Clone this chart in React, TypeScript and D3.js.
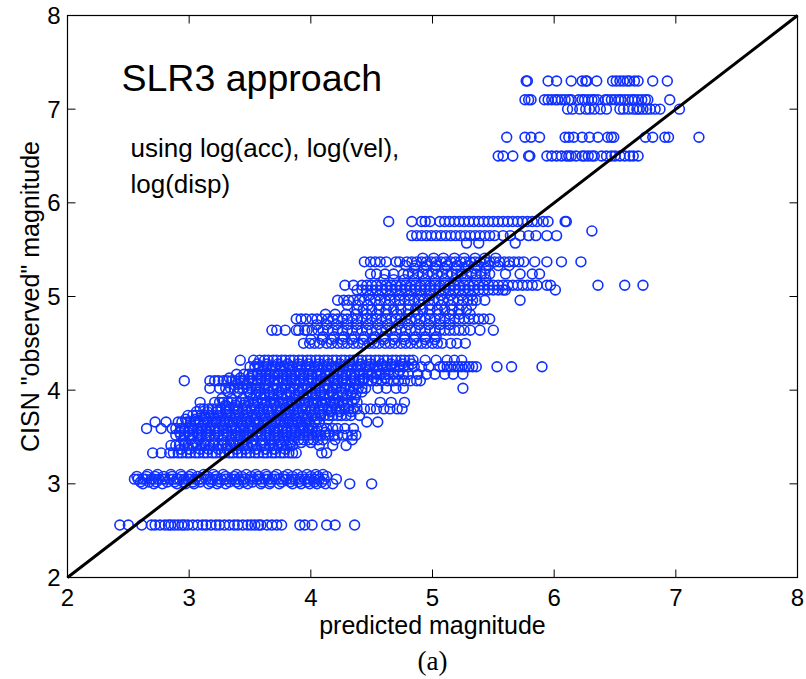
import React from "react";
import * as d3 from "d3";

// Observed (catalogue) magnitude levels and the predicted magnitudes recorded at each level
const observedLevels: number[] = [
  2.56, 3.0, 3.05, 3.1, 3.33, 3.41, 3.47, 3.52, 3.59, 3.66, 3.73, 3.8, 3.87, 3.95, 4.02, 4.1,
  4.17, 4.25, 4.32, 4.5, 4.64, 4.76, 4.86, 4.96, 5.07, 5.12, 5.24, 5.37, 5.57, 5.65, 5.7, 5.8,
  6.5, 6.7, 7.0, 7.1, 7.3,
];

const predicted: number[][] = [
  // 2.56
  [2.43, 2.5, 2.61, 2.69, 2.72, 2.76, 2.8, 2.83, 2.85, 2.88, 2.91, 2.94, 2.96, 2.99, 3.03, 3.07, 3.11, 3.14, 3.18, 3.22, 3.25, 3.29, 3.33, 3.37, 3.4, 3.44, 3.48, 3.51, 3.54, 3.57, 3.59, 3.64, 3.68, 3.72, 3.76, 3.91, 3.95, 4.01, 4.13, 4.2, 4.36],
  // 3.0
  [2.62, 2.71, 2.78, 2.9, 2.97, 3.04, 3.16, 3.23, 3.3, 3.41, 3.48, 3.59, 3.66, 3.74, 3.85, 3.92, 3.99, 4.05, 4.12, 4.18, 4.32, 4.5],
  // 3.05
  [2.55, 2.58, 2.62, 2.64, 2.69, 2.71, 2.75, 2.78, 2.8, 2.84, 2.87, 2.9, 2.92, 2.96, 2.99, 3.01, 3.05, 3.08, 3.1, 3.14, 3.17, 3.19, 3.23, 3.26, 3.29, 3.31, 3.35, 3.38, 3.41, 3.44, 3.46, 3.5, 3.53, 3.56, 3.58, 3.62, 3.65, 3.68, 3.71, 3.74, 3.77, 3.8, 3.84, 3.87, 3.91, 3.95, 3.99, 4.03, 4.07, 4.11, 4.21],
  // 3.1
  [2.66, 2.74, 2.85, 2.93, 3.02, 3.12, 3.2, 3.28, 3.39, 3.47, 3.55, 3.63, 3.72, 3.81, 3.89, 3.97, 4.04, 4.1],
  // 3.33
  [2.7, 2.77, 2.84, 2.87, 2.91, 2.94, 2.98, 3.01, 3.05, 3.08, 3.12, 3.15, 3.19, 3.22, 3.26, 3.29, 3.33, 3.36, 3.4, 3.43, 3.47, 3.5, 3.54, 3.57, 3.61, 3.64, 3.68, 3.71, 3.75, 3.78, 3.82, 3.85, 3.88, 4.09, 4.13],
  // 3.41
  [2.85, 2.89, 2.92, 2.96, 2.99, 3.03, 3.06, 3.1, 3.13, 3.17, 3.2, 3.24, 3.27, 3.31, 3.34, 3.38, 3.41, 3.45, 3.48, 3.52, 3.55, 3.59, 3.62, 3.66, 3.69, 3.73, 3.76, 3.8, 3.83, 3.85, 4.07, 4.18, 4.29],
  // 3.47
  [2.95, 3.01, 3.08, 3.14, 3.21, 3.27, 3.34, 3.4, 3.47, 3.53, 3.6, 3.66, 3.7, 3.74, 3.78, 3.82, 3.86, 3.9, 3.94, 3.98, 4.02, 4.06, 4.1, 4.2, 4.34],
  // 3.52
  [2.89, 2.93, 2.96, 3.0, 3.03, 3.07, 3.1, 3.14, 3.17, 3.21, 3.24, 3.28, 3.31, 3.35, 3.38, 3.42, 3.45, 3.49, 3.52, 3.56, 3.59, 3.63, 3.66, 3.7, 3.73, 3.77, 3.8, 3.84, 3.87, 3.91, 3.94, 3.98, 4.01, 4.05, 4.08, 4.12, 4.15, 4.19, 4.22, 4.26, 4.3, 4.34, 4.37],
  // 3.59
  [2.65, 2.77, 2.86, 2.89, 2.93, 2.96, 3.0, 3.03, 3.07, 3.1, 3.14, 3.17, 3.21, 3.24, 3.28, 3.31, 3.35, 3.38, 3.42, 3.45, 3.49, 3.52, 3.56, 3.59, 3.63, 3.66, 3.7, 3.73, 3.77, 3.8, 3.84, 3.87, 3.91, 3.94, 3.98, 4.01, 4.05, 4.09, 4.13, 4.18, 4.22, 4.28, 4.35],
  // 3.66
  [2.72, 2.81, 2.91, 2.94, 2.98, 3.01, 3.05, 3.08, 3.12, 3.15, 3.19, 3.22, 3.26, 3.29, 3.33, 3.36, 3.4, 3.43, 3.47, 3.5, 3.54, 3.57, 3.61, 3.64, 3.68, 3.71, 3.75, 3.78, 3.82, 3.85, 3.89, 3.92, 3.96, 3.99, 4.03, 4.07, 4.46, 4.55],
  // 3.73
  [2.99, 3.03, 3.06, 3.1, 3.13, 3.17, 3.2, 3.24, 3.27, 3.31, 3.34, 3.38, 3.41, 3.45, 3.48, 3.52, 3.55, 3.59, 3.62, 3.66, 3.69, 3.73, 3.76, 3.8, 3.83, 3.87, 3.9, 3.94, 3.97, 4.01, 4.04, 4.08, 4.11, 4.15, 4.18, 4.22, 4.25, 4.29, 4.33, 4.4],
  // 3.8
  [3.09, 3.12, 3.16, 3.19, 3.23, 3.26, 3.3, 3.33, 3.37, 3.4, 3.44, 3.47, 3.51, 3.54, 3.58, 3.61, 3.65, 3.68, 3.72, 3.75, 3.79, 3.82, 3.86, 3.89, 3.93, 3.96, 4.0, 4.03, 4.07, 4.1, 4.14, 4.17, 4.21, 4.24, 4.28, 4.31, 4.35, 4.38, 4.44, 4.49, 4.54, 4.6, 4.65, 4.71, 4.75],
  // 3.87
  [3.09, 3.21, 3.25, 3.28, 3.32, 3.35, 3.39, 3.42, 3.46, 3.49, 3.53, 3.56, 3.6, 3.63, 3.67, 3.7, 3.74, 3.77, 3.81, 3.84, 3.88, 3.91, 3.95, 3.98, 4.02, 4.05, 4.09, 4.12, 4.16, 4.19, 4.23, 4.26, 4.3, 4.34, 4.38, 4.57, 4.66, 4.77],
  // 3.95
  [3.5, 3.55, 3.59, 3.62, 3.66, 3.69, 3.73, 3.76, 3.8, 3.83, 3.87, 3.9, 3.94, 3.97, 4.01, 4.04, 4.08, 4.11, 4.15, 4.18, 4.22, 4.26, 4.3, 4.33, 4.37],
  // 4.02
  [3.17, 3.25, 3.3, 3.34, 3.37, 3.41, 3.44, 3.48, 3.51, 3.55, 3.58, 3.62, 3.65, 3.69, 3.72, 3.76, 3.79, 3.83, 3.86, 3.9, 3.93, 3.97, 4.0, 4.04, 4.07, 4.11, 4.14, 4.18, 4.21, 4.25, 4.28, 4.32, 4.35, 4.39, 4.42, 4.45, 4.55, 4.62, 4.7, 4.76, 5.25],
  // 4.1
  [2.96, 3.17, 3.21, 3.24, 3.28, 3.31, 3.35, 3.38, 3.42, 3.45, 3.49, 3.52, 3.56, 3.59, 3.63, 3.66, 3.7, 3.73, 3.77, 3.8, 3.84, 3.87, 3.91, 3.94, 3.98, 4.01, 4.05, 4.08, 4.12, 4.15, 4.19, 4.22, 4.26, 4.29, 4.33, 4.36, 4.4, 4.43, 4.47, 4.5, 4.54, 4.58, 4.63, 4.68, 4.72, 4.77, 4.82, 4.87, 4.9],
  // 4.17
  [3.39, 3.45, 3.49, 3.52, 3.56, 3.59, 3.63, 3.66, 3.7, 3.73, 3.77, 3.8, 3.84, 3.87, 3.91, 3.94, 3.98, 4.01, 4.05, 4.08, 4.12, 4.15, 4.19, 4.22, 4.26, 4.29, 4.33, 4.36, 4.4, 4.43, 4.47, 4.5, 4.54, 4.57, 4.61, 4.64, 4.68, 4.72, 4.76, 4.8, 4.88, 4.95, 5.02, 5.1, 5.17, 5.25],
  // 4.25
  [3.5, 3.54, 3.57, 3.61, 3.64, 3.68, 3.71, 3.75, 3.78, 3.82, 3.85, 3.89, 3.92, 3.96, 3.99, 4.03, 4.06, 4.1, 4.13, 4.17, 4.2, 4.24, 4.27, 4.31, 4.34, 4.38, 4.41, 4.45, 4.48, 4.52, 4.55, 4.59, 4.62, 4.66, 4.69, 4.73, 4.76, 4.8, 4.85, 4.91, 4.97, 5.06, 5.09, 5.12, 5.15, 5.18, 5.21, 5.24, 5.27, 5.3, 5.33, 5.36, 5.53, 5.65, 5.9],
  // 4.32
  [3.42, 3.53, 3.58, 3.62, 3.65, 3.69, 3.72, 3.76, 3.79, 3.83, 3.86, 3.9, 3.93, 3.97, 4.0, 4.04, 4.07, 4.11, 4.14, 4.18, 4.21, 4.25, 4.28, 4.32, 4.35, 4.39, 4.42, 4.46, 4.49, 4.53, 4.56, 4.6, 4.63, 4.67, 4.7, 4.74, 4.77, 4.81, 4.84, 4.94, 5.03, 5.12, 5.18, 5.24],
  // 4.5
  [3.94, 3.99, 4.03, 4.07, 4.13, 4.17, 4.22, 4.26, 4.3, 4.35, 4.39, 4.43, 4.48, 4.52, 4.56, 4.61, 4.65, 4.69, 4.74, 4.78, 4.82, 4.87, 4.91, 4.95, 5.0, 5.04, 5.08, 5.15, 5.2, 5.27],
  // 4.64
  [3.68, 3.72, 3.79, 3.88, 3.9, 3.95, 3.97, 4.01, 4.06, 4.1, 4.14, 4.18, 4.22, 4.26, 4.3, 4.34, 4.38, 4.42, 4.46, 4.5, 4.54, 4.58, 4.62, 4.66, 4.7, 4.74, 4.78, 4.82, 4.86, 4.9, 4.94, 4.98, 5.02, 5.06, 5.1, 5.14, 5.18, 5.22, 5.26, 5.31, 5.39, 5.5],
  // 4.76
  [3.88, 3.92, 3.96, 4.01, 4.05, 4.09, 4.14, 4.18, 4.22, 4.26, 4.3, 4.34, 4.38, 4.42, 4.46, 4.5, 4.54, 4.58, 4.62, 4.66, 4.7, 4.74, 4.78, 4.82, 4.86, 4.9, 4.94, 4.98, 5.02, 5.06, 5.1, 5.14, 5.18, 5.22, 5.26, 5.3, 5.34, 5.38, 5.42, 5.47],
  // 4.86
  [4.38, 4.43, 4.5, 4.56, 4.62, 4.68, 4.74, 4.8, 4.86, 4.92, 4.98, 5.04, 5.1, 5.16, 5.22, 5.28],
  // 4.96
  [4.22, 4.27, 4.31, 4.35, 4.4, 4.44, 4.49, 4.53, 4.57, 4.61, 4.65, 4.69, 4.73, 4.77, 4.81, 4.85, 4.89, 4.93, 4.97, 5.01, 5.05, 5.09, 5.13, 5.17, 5.21, 5.25, 5.29, 5.33, 5.36, 5.43, 5.72],
  // 5.07
  [4.38, 4.42, 4.46, 4.5, 4.54, 4.58, 4.62, 4.66, 4.7, 4.74, 4.78, 4.82, 4.86, 4.9, 4.94, 4.98, 5.02, 5.06, 5.1, 5.14, 5.18, 5.22, 5.26, 5.3, 5.34, 5.38, 5.42, 5.46, 5.5, 5.54, 5.58, 5.6, 6.01],
  // 5.12
  [4.28, 4.35, 4.42, 4.46, 4.5, 4.54, 4.58, 4.62, 4.66, 4.7, 4.74, 4.78, 4.82, 4.86, 4.9, 4.94, 4.98, 5.02, 5.06, 5.1, 5.14, 5.18, 5.22, 5.26, 5.3, 5.34, 5.38, 5.42, 5.46, 5.5, 5.54, 5.58, 5.62, 5.66, 5.7, 5.74, 5.78, 5.82, 5.86, 5.94, 5.97, 6.36, 6.58, 6.73],
  // 5.24
  [4.49, 4.54, 4.61, 4.68, 4.76, 4.8, 4.84, 4.88, 4.92, 4.96, 5.0, 5.04, 5.08, 5.12, 5.16, 5.2, 5.24, 5.28, 5.32, 5.36, 5.4, 5.43, 5.47, 5.6, 5.72, 5.82, 5.88],
  // 5.37
  [4.44, 4.49, 4.53, 4.57, 4.62, 4.7, 4.73, 4.79, 4.83, 4.87, 4.91, 4.95, 4.99, 5.03, 5.07, 5.11, 5.15, 5.19, 5.23, 5.27, 5.31, 5.35, 5.39, 5.43, 5.47, 5.51, 5.55, 5.59, 5.63, 5.67, 5.71, 5.75, 5.84, 5.94, 6.06, 6.22],
  // 5.57
  [5.28, 5.38, 5.68],
  // 5.65
  [4.83, 4.87, 4.91, 4.95, 4.99, 5.03, 5.07, 5.11, 5.15, 5.19, 5.23, 5.27, 5.31, 5.35, 5.39, 5.43, 5.47, 5.51, 5.58, 5.64, 5.72, 5.79, 5.85, 5.94, 6.02],
  // 5.7
  [6.31],
  // 5.8
  [4.64, 4.83, 4.91, 4.94, 4.98, 5.06, 5.1, 5.14, 5.18, 5.22, 5.26, 5.3, 5.34, 5.38, 5.42, 5.46, 5.5, 5.54, 5.58, 5.62, 5.66, 5.7, 5.74, 5.78, 5.82, 5.86, 5.91, 5.95, 6.09, 6.1],
  // 6.5
  [5.54, 5.58, 5.66, 5.79, 5.8, 5.94, 5.98, 6.02, 6.06, 6.1, 6.12, 6.14, 6.18, 6.23, 6.25, 6.28, 6.31, 6.33, 6.39, 6.43, 6.47, 6.5, 6.54, 6.58, 6.62, 6.65, 6.69],
  // 6.7
  [5.61, 5.76, 5.81, 5.88, 6.09, 6.12, 6.16, 6.23, 6.29, 6.36, 6.44, 6.47, 6.49, 6.75, 6.81, 6.91, 6.94, 7.19],
  // 7.0
  [6.11, 6.15, 6.21, 6.26, 6.29, 6.33, 6.38, 6.43, 6.54, 6.57, 6.61, 6.65, 6.68, 6.7, 6.73, 6.76, 6.79, 6.83, 6.87, 7.03],
  // 7.1
  [5.76, 5.79, 5.81, 5.92, 5.95, 5.98, 6.01, 6.03, 6.06, 6.09, 6.12, 6.14, 6.2, 6.23, 6.25, 6.28, 6.31, 6.33, 6.36, 6.42, 6.44, 6.47, 6.5, 6.53, 6.55, 6.58, 6.61, 6.64, 6.66, 6.69, 6.72, 6.75, 6.77, 6.95],
  // 7.3
  [5.77, 5.78, 5.95, 6.02, 6.14, 6.23, 6.26, 6.27, 6.35, 6.48, 6.51, 6.54, 6.57, 6.6, 6.62, 6.66, 6.69, 6.81, 6.93],
];

// Extra records at intermediate observed levels inside the dense bands
const coreLevels: number[] = [
  3.02, 3.08, 3.37, 3.44, 3.55, 3.62, 3.69, 3.77, 3.84, 3.91, 3.98, 4.06, 4.13, 4.21, 4.28,
  4.54, 4.57, 4.7, 4.81, 4.91, 5.01, 5.18, 5.3, 5.33, 5.41,
];
const corePredicted: number[][] = [
  // 3.02
  [2.6, 2.67, 2.73, 2.82, 2.88, 2.95, 3.03, 3.09, 3.18, 3.25, 3.33, 3.39, 3.45, 3.52, 3.6, 3.67, 3.76, 3.83, 3.9, 3.97, 4.03, 4.09],
  // 3.08
  [2.57, 2.65, 2.72, 2.79, 2.86, 2.94, 3.0, 3.07, 3.15, 3.22, 3.3, 3.37, 3.43, 3.51, 3.57, 3.64, 3.7, 3.78, 3.85, 3.93, 4.0, 4.06, 4.13],
  // 3.37
  [2.93, 3.0, 3.09, 3.16, 3.24, 3.31, 3.39, 3.46, 3.55, 3.63, 3.7, 3.79],
  // 3.44
  [2.97, 3.05, 3.12, 3.2, 3.29, 3.36, 3.44, 3.51, 3.6, 3.68, 3.75, 3.83, 3.92, 4.0],
  // 3.55
  [2.92, 2.99, 3.08, 3.15, 3.23, 3.32, 3.4, 3.47, 3.56, 3.64, 3.71, 3.8, 3.88, 3.96, 4.04, 4.12],
  // 3.62
  [3.02, 3.11, 3.18, 3.27, 3.35, 3.44, 3.51, 3.6, 3.68, 3.77, 3.86, 3.93, 4.0],
  // 3.69
  [2.97, 3.05, 3.14, 3.22, 3.3, 3.38, 3.47, 3.55, 3.63, 3.72, 3.8, 3.88, 3.97, 4.05, 4.14],
  // 3.77
  [3.06, 3.15, 3.23, 3.31, 3.4, 3.48, 3.57, 3.65, 3.74, 3.82, 3.9, 3.99, 4.07, 4.16, 4.24, 4.33],
  // 3.84
  [3.3, 3.38, 3.45, 3.53, 3.62, 3.7, 3.78, 3.85, 3.94, 4.02, 4.1, 4.19, 4.27],
  // 3.91
  [3.27, 3.35, 3.44, 3.52, 3.6, 3.69, 3.77, 3.86, 3.94, 4.03, 4.11, 4.2, 4.28, 4.36],
  // 3.98
  [3.32, 3.4, 3.49, 3.57, 3.66, 3.74, 3.83, 3.91, 4.0, 4.08, 4.17, 4.25, 4.34, 4.42],
  // 4.06
  [3.4, 3.47, 3.56, 3.63, 3.71, 3.8, 3.88, 3.95, 4.04, 4.13, 4.2, 4.29, 4.37],
  // 4.13
  [3.33, 3.42, 3.5, 3.59, 3.67, 3.76, 3.84, 3.93, 4.01, 4.1, 4.18, 4.27, 4.35, 4.44, 4.52, 4.61],
  // 4.21
  [3.6, 3.67, 3.75, 3.83, 3.9, 3.99, 4.07, 4.15, 4.24, 4.31, 4.4, 4.47, 4.56, 4.64, 4.73],
  // 4.28
  [3.56, 3.64, 3.73, 3.81, 3.9, 3.98, 4.07, 4.15, 4.24, 4.32, 4.41, 4.49, 4.58, 4.66, 4.75, 4.83],
  // 4.54
  [4.0, 4.09, 4.17, 4.26, 4.34, 4.43, 4.51, 4.6, 4.68, 4.77, 4.85, 4.94, 5.02],
  // 4.57
  [4.1, 4.19, 4.27, 4.36, 4.44, 4.53, 4.6, 4.69, 4.77, 4.86, 4.94, 5.03],
  // 4.7
  [4.05, 4.13, 4.21, 4.3, 4.38, 4.47, 4.55, 4.63, 4.72, 4.8, 4.89, 4.97, 5.06, 5.14],
  // 4.81
  [4.12, 4.2, 4.29, 4.37, 4.46, 4.54, 4.63, 4.71, 4.8, 4.88, 4.97, 5.05, 5.14, 5.22, 5.31],
  // 4.91
  [4.3, 4.39, 4.47, 4.56, 4.64, 4.73, 4.81, 4.9, 4.98, 5.07, 5.15, 5.24, 5.32],
  // 5.01
  [4.48, 4.56, 4.65, 4.73, 4.81, 4.9, 4.98, 5.07, 5.15, 5.24, 5.32],
  // 5.18
  [4.6, 4.68, 4.77, 4.85, 4.94, 5.02, 5.1, 5.19, 5.27, 5.36, 5.44],
  // 5.3
  [4.85, 4.93, 5.02, 5.1, 5.19, 5.27, 5.35, 5.44],
  // 5.33
  [4.78, 4.86, 4.95, 5.03, 5.12, 5.2, 5.29, 5.37, 5.46, 5.54, 5.63],
  // 5.41
  [4.92, 5.01, 5.09, 5.18, 5.26, 5.35, 5.43, 5.52],
];

const xTicks: number[] = [2, 3, 4, 5, 6, 7, 8];
const yTicks: number[] = [2, 3, 4, 5, 6, 7, 8];
const axisDomain: [number, number] = [2, 8];

const W = 806;
const H = 679;
const plot = { left: 67.5, right: 797.5, top: 15.5, bottom: 577.5 };
const TICK = 8;
const SANS = "'Liberation Sans', Arial, Helvetica, sans-serif";
const SERIF = "'Liberation Serif', 'Times New Roman', serif";
const MARK = "#0f30ff";

export default function App() {
  const x = d3.scaleLinear().domain(axisDomain).range([plot.left, plot.right]);
  const y = d3.scaleLinear().domain(axisDomain).range([plot.bottom, plot.top]);

  const points: { px: number; py: number }[] = [];
  const addRows = (levels: number[], rows: number[][]) =>
    levels.forEach((obs, i) => {
      rows[i].forEach((p) => points.push({ px: x(p), py: y(obs) }));
    });
  addRows(observedLevels, predicted);
  addRows(coreLevels, corePredicted);

  const diag = d3.line<number>().x((v) => x(v)).y((v) => y(v))(axisDomain) as string;

  return (
    <div style={{ position: "fixed", left: 0, top: 0, background: "#fff" }}>
      <svg width={W} height={H} viewBox={`0 0 ${W} ${H}`} style={{ display: "block" }}>
        <rect width={W} height={H} fill="#fff" />

        {/* scatter markers */}
        <g fill="none" stroke={MARK} strokeWidth={1.6}>
          {points.map((d, i) => (
            <circle key={i} cx={d.px} cy={d.py} r={4.9} />
          ))}
        </g>

        {/* one-to-one reference line */}
        <path d={diag} stroke="#000" strokeWidth={3} fill="none" />

        {/* axes box with inward ticks on all sides */}
        <rect
          x={plot.left}
          y={plot.top}
          width={plot.right - plot.left}
          height={plot.bottom - plot.top}
          fill="none"
          stroke="#000"
          strokeWidth={1.2}
        />
        <g stroke="#000" strokeWidth={1}>
          {xTicks.map((t) => (
            <g key={`xt${t}`}>
              <line x1={x(t)} x2={x(t)} y1={plot.bottom} y2={plot.bottom - TICK} />
              <line x1={x(t)} x2={x(t)} y1={plot.top} y2={plot.top + TICK} />
            </g>
          ))}
          {yTicks.map((t) => (
            <g key={`yt${t}`}>
              <line x1={plot.left} x2={plot.left + TICK} y1={y(t)} y2={y(t)} />
              <line x1={plot.right} x2={plot.right - TICK} y1={y(t)} y2={y(t)} />
            </g>
          ))}
        </g>

        <g fontFamily={SANS} fontSize={24} fill="#000">
          {xTicks.map((t) => (
            <text key={`xl${t}`} x={x(t)} y={606} textAnchor="middle">
              {t}
            </text>
          ))}
          {yTicks.map((t) => (
            <text key={`yl${t}`} x={plot.left - 7} y={y(t)} dy="0.35em" textAnchor="end">
              {t}
            </text>
          ))}
        </g>

        <text x={(plot.left + plot.right) / 2} y={634} textAnchor="middle" fontFamily={SANS} fontSize={25}>
          predicted magnitude
        </text>
        <text
          transform={`translate(39,${(plot.top + plot.bottom) / 2}) rotate(-90)`}
          textAnchor="middle"
          fontFamily={SANS}
          fontSize={25}
        >
          CISN "observed" magnitude
        </text>

        <text x={121.5} y={90.5} fontFamily={SANS} fontSize={37.5}>
          SLR3 approach
        </text>
        <text x={130.5} y={157} fontFamily={SANS} fontSize={26}>
          using log(acc), log(vel),
        </text>
        <text x={130.5} y={192.5} fontFamily={SANS} fontSize={26}>
          log(disp)
        </text>

        <text x={(plot.left + plot.right) / 2} y={670} textAnchor="middle" fontFamily={SERIF} fontSize={27}>
          (a)
        </text>
      </svg>
    </div>
  );
}
